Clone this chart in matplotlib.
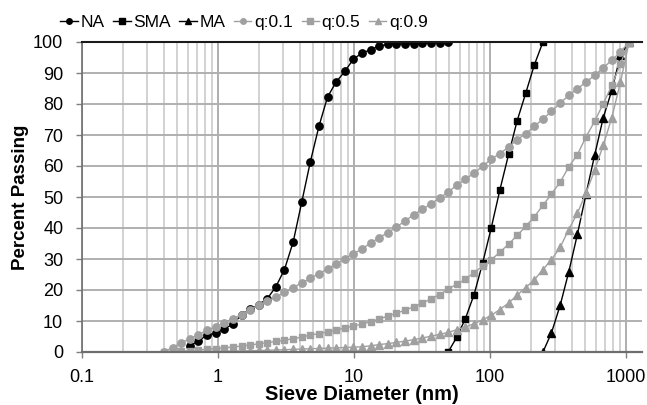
import numpy as np
import matplotlib
matplotlib.use("Agg")
import matplotlib.pyplot as plt
from matplotlib.ticker import LogLocator, FixedLocator, NullFormatter

plt.rcParams['font.family'] = ['Liberation Sans', 'DejaVu Sans']

# sieve sizes (nm), shared by every curve
sieve = [0.400, 0.463, 0.536, 0.620, 0.717, 0.829, 0.960, 1.11, 1.28, 1.49,
         1.72, 1.99, 2.30, 2.66, 3.08, 3.57, 4.13, 4.77, 5.52, 6.39,
         7.39, 8.55, 9.90, 11.5, 13.3, 15.3, 17.7, 20.5, 23.7, 27.5,
         31.8, 36.8, 42.6, 49.2, 57.0, 65.9, 76.3, 88.2, 102, 118,
         137, 158, 183, 212, 245, 283, 328, 379, 439, 508,
         587, 680, 786, 910, 1053]

# NA covers sieve[3:34], SMA sieve[33:45], MA sieve[44:55]
na = [2.0, 3.5, 5.5, 6.0, 7.5, 8.9, 12.0, 13.8, 15.2, 17.2,
      21.0, 26.6, 35.5, 48.4, 61.3, 72.8, 82.3, 87.1, 90.5, 94.5,
      96.5, 97.5, 98.8, 99.2, 99.3, 99.4, 99.5, 99.6, 99.7, 99.8, 100.0]
sma = [0.0, 4.8, 10.8, 18.5, 28.7, 40.0, 52.2, 63.8, 74.5, 83.5, 92.7, 100.0]
ma = [0.0, 6.2, 15.1, 25.8, 38.0, 51.0, 63.4, 75.6, 84.4, 95.7, 100.0]

q01 = [0.0, 1.4, 2.9, 4.3, 5.6, 7.0, 8.1, 9.4, 10.8, 12.0,
       13.7, 15.1, 16.3, 17.7, 19.2, 20.8, 22.3, 23.8, 25.3, 26.8,
       28.4, 30.1, 31.7, 33.3, 35.2, 36.9, 38.5, 40.3, 42.3, 44.3,
       46.0, 47.8, 49.7, 51.6, 53.8, 55.7, 57.7, 59.9, 62.2, 64.0,
       66.1, 68.5, 70.4, 72.8, 75.2, 77.6, 80.3, 82.8, 84.9, 87.1,
       89.2, 91.7, 94.1, 96.8, 100.0]
q05 = [0.0, 0.1, 0.3, 0.4, 0.6, 0.9, 1.1, 1.3, 1.6, 1.9,
       2.3, 2.6, 3.0, 3.4, 3.8, 4.3, 4.8, 5.5, 5.9, 6.5,
       7.0, 7.8, 8.4, 9.0, 9.8, 10.6, 11.6, 12.5, 13.5, 14.6,
       15.7, 17.2, 18.5, 20.3, 21.9, 23.4, 25.6, 27.7, 29.7, 32.2,
       34.8, 37.6, 40.5, 43.7, 47.3, 51.0, 54.8, 59.7, 63.7, 69.4,
       74.4, 80.1, 86.0, 93.0, 100.0]
q09 = [0.0, 0.02, 0.05, 0.08, 0.1, 0.15, 0.2, 0.25, 0.3, 0.35,
       0.4, 0.5, 0.55, 0.65, 0.75, 0.85, 0.95, 1.05, 1.15, 1.25,
       1.35, 1.45, 1.55, 1.7, 2.0, 2.4, 2.7, 3.1, 3.5, 4.0,
       4.5, 5.1, 5.7, 6.3, 7.2, 8.1, 9.1, 10.4, 11.8, 13.7,
       15.8, 18.3, 20.8, 23.3, 26.6, 29.8, 33.8, 39.5, 44.8, 51.3,
       58.6, 66.7, 75.6, 87.1, 100.0]

x_ticks = [0.1, 1, 10, 100, 1000]
x_ticklabels = ["0.1", "1", "10", "100", "1000"]

black = "#000000"
grey = "#a0a0a0"

fig = plt.figure(figsize=(6.47, 4.05), dpi=100)
ax = fig.add_axes([82/647, 53/405, 560/647, 310/405])

ax.set_xscale("log")
ax.set_xlim(0.1, 1310)
ax.set_ylim(0, 100)

# grid: decades, minor per-decade lines and every 10 %
ax.xaxis.set_major_locator(FixedLocator(x_ticks))
ax.xaxis.set_minor_locator(LogLocator(base=10, subs=np.arange(2, 10)))
ax.xaxis.set_minor_formatter(NullFormatter())
ax.set_xticklabels(x_ticklabels)
ax.set_yticks(np.arange(0, 101, 10))
ax.grid(True, which="major", axis="x", color="#a8a8a8", lw=1.3)
ax.grid(True, which="minor", axis="x", color="#c6c6c6", lw=1.1)
ax.grid(True, which="major", axis="y", color="#b0b0b0", lw=1.4)
ax.set_axisbelow(True)

ms = 5.3
ax.plot(sieve[3:34], na, color=black, lw=1.0, marker="o", ms=ms, label="NA")
ax.plot(sieve[33:45], sma, color=black, lw=1.0, marker="s", ms=ms - 0.3, label="SMA")
ax.plot(sieve[44:55], ma, color=black, lw=1.0, marker="^", ms=ms, label="MA")
ax.plot(sieve, q01, color=grey, lw=1.0, marker="o", ms=ms, label="q:0.1")
ax.plot(sieve, q05, color=grey, lw=1.0, marker="s", ms=ms - 0.3, label="q:0.5")
ax.plot(sieve, q09, color=grey, lw=1.0, marker="^", ms=ms, label="q:0.9")

ax.spines["right"].set_visible(False)
ax.spines["top"].set_color("#1a1a1a")
ax.spines["top"].set_linewidth(1.5)
ax.spines["bottom"].set_color("#6e6e6e")
ax.spines["bottom"].set_linewidth(1.6)
ax.spines["left"].set_color("#6e6e6e")
ax.spines["left"].set_linewidth(1.2)

ax.tick_params(axis="both", which="major", labelsize=13, length=4.5,
               color="#808080", width=1.0, colors="#000000")
ax.tick_params(axis="x", which="minor", length=0)
ax.tick_params(axis="y", pad=9)
ax.tick_params(axis="x", pad=8)

ax.set_xlabel("Sieve Diameter (nm)", fontsize=14.5, fontweight="bold", labelpad=-1)
ax.set_ylabel("Percent Passing", fontsize=13.5, fontweight="bold", labelpad=3)

fig.legend(loc="upper left", bbox_to_anchor=(50/647, 0.99), ncol=6,
           frameon=False, fontsize=12.5, handlelength=1.0, handletextpad=0.15,
           columnspacing=0.5, markerscale=0.75, borderaxespad=0.2)

fig.savefig("out.png", dpi=100)
